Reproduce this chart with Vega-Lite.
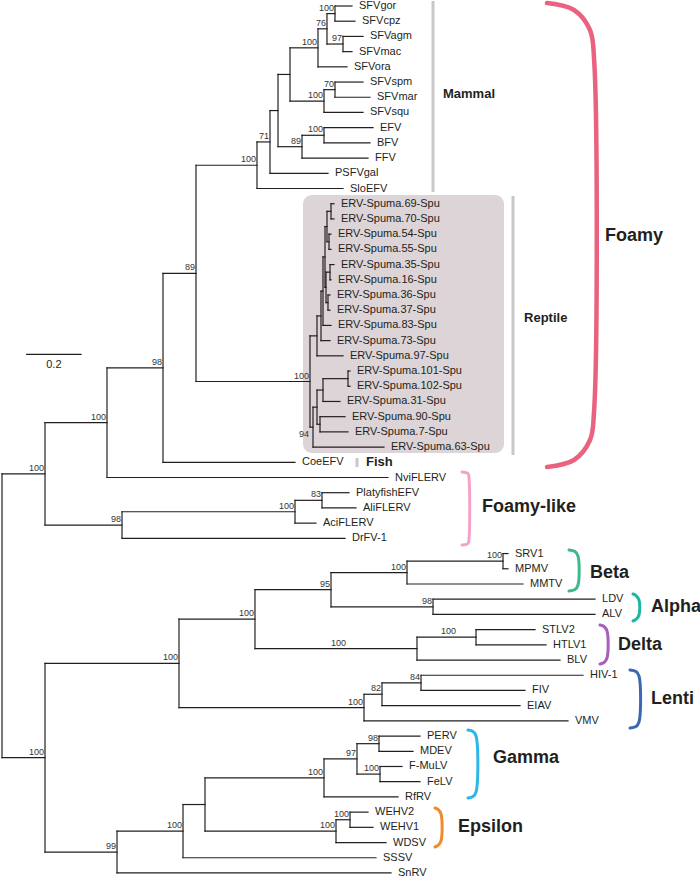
{
  "$schema": "https://vega.github.io/schema/vega-lite/v6.json",
  "width": 700,
  "height": 878,
  "autosize": {"type": "none"},
  "padding": 0,
  "config": {"view": {"stroke": null}, "font": "Liberation Sans"},
  "datasets": {
    "seg": [
      {"x":0,"x2":0,"y":30.76,"y2":49.42},
      {"x":0,"x2":0.1584,"y":30.76,"y2":30.76},
      {"x":0.1584,"x2":0.1584,"y":27.395,"y2":34.125},
      {"x":0.1584,"x2":0.3867,"y":27.395,"y2":27.395},
      {"x":0.3867,"x2":0.3867,"y":23.789,"y2":31},
      {"x":0.3867,"x2":1.4217,"y":31,"y2":31},
      {"x":0.3867,"x2":0.593,"y":23.789,"y2":23.789},
      {"x":0.593,"x2":0.593,"y":17.578,"y2":30},
      {"x":0.593,"x2":1.0792,"y":30,"y2":30},
      {"x":0.593,"x2":0.7145,"y":17.578,"y2":17.578},
      {"x":0.7145,"x2":0.7145,"y":10.469,"y2":24.688},
      {"x":0.7145,"x2":0.9392,"y":10.469,"y2":10.469},
      {"x":0.9392,"x2":0.9392,"y":8.938,"y2":12},
      {"x":0.9392,"x2":1.256,"y":12,"y2":12},
      {"x":0.9392,"x2":0.9871,"y":8.938,"y2":8.938},
      {"x":0.9871,"x2":0.9871,"y":6.875,"y2":11},
      {"x":0.9871,"x2":1.2007,"y":11,"y2":11},
      {"x":0.9871,"x2":1.0166,"y":6.875,"y2":6.875},
      {"x":1.0166,"x2":1.0166,"y":4.5,"y2":9.25},
      {"x":1.0166,"x2":1.0608,"y":4.5,"y2":4.5},
      {"x":1.0608,"x2":1.0608,"y":2.75,"y2":6.25},
      {"x":1.0608,"x2":1.1639,"y":2.75,"y2":2.75},
      {"x":1.1639,"x2":1.1639,"y":1.5,"y2":4},
      {"x":1.1639,"x2":1.2707,"y":4,"y2":4},
      {"x":1.1639,"x2":1.197,"y":1.5,"y2":1.5},
      {"x":1.197,"x2":1.197,"y":0.5,"y2":2.5},
      {"x":1.197,"x2":1.2265,"y":0.5,"y2":0.5},
      {"x":1.2265,"x2":1.2265,"y":0,"y2":1},
      {"x":1.2265,"x2":1.2891,"y":0,"y2":0},
      {"x":1.2265,"x2":1.3002,"y":1,"y2":1},
      {"x":1.197,"x2":1.256,"y":2.5,"y2":2.5},
      {"x":1.256,"x2":1.256,"y":2,"y2":3},
      {"x":1.256,"x2":1.3297,"y":2,"y2":2},
      {"x":1.256,"x2":1.2891,"y":3,"y2":3},
      {"x":1.0608,"x2":1.186,"y":6.25,"y2":6.25},
      {"x":1.186,"x2":1.186,"y":5.5,"y2":7},
      {"x":1.186,"x2":1.2265,"y":5.5,"y2":5.5},
      {"x":1.2265,"x2":1.2265,"y":5,"y2":6},
      {"x":1.2265,"x2":1.3297,"y":5,"y2":5},
      {"x":1.2265,"x2":1.3554,"y":6,"y2":6},
      {"x":1.186,"x2":1.3297,"y":7,"y2":7},
      {"x":1.0166,"x2":1.105,"y":9.25,"y2":9.25},
      {"x":1.105,"x2":1.105,"y":8.5,"y2":10},
      {"x":1.105,"x2":1.186,"y":8.5,"y2":8.5},
      {"x":1.186,"x2":1.186,"y":8,"y2":9},
      {"x":1.186,"x2":1.3665,"y":8,"y2":8},
      {"x":1.186,"x2":1.3554,"y":9,"y2":9},
      {"x":1.105,"x2":1.3481,"y":10,"y2":10},
      {"x":0.7145,"x2":1.1344,"y":24.688,"y2":24.688},
      {"x":1.1344,"x2":1.1344,"y":21.688,"y2":27.688},
      {"x":1.1344,"x2":1.1602,"y":21.688,"y2":21.688},
      {"x":1.1602,"x2":1.1602,"y":20.375,"y2":23},
      {"x":1.1602,"x2":1.256,"y":23,"y2":23},
      {"x":1.1602,"x2":1.1749,"y":20.375,"y2":20.375},
      {"x":1.1749,"x2":1.1749,"y":18.75,"y2":22},
      {"x":1.1749,"x2":1.2081,"y":22,"y2":22},
      {"x":1.1749,"x2":1.1823,"y":18.75,"y2":18.75},
      {"x":1.1823,"x2":1.1823,"y":16.5,"y2":21},
      {"x":1.1823,"x2":1.2118,"y":21,"y2":21},
      {"x":1.1823,"x2":1.1897,"y":16.5,"y2":16.5},
      {"x":1.1897,"x2":1.1897,"y":14.5,"y2":18.5},
      {"x":1.1897,"x2":1.197,"y":14.5,"y2":14.5},
      {"x":1.197,"x2":1.197,"y":13.5,"y2":15.5},
      {"x":1.197,"x2":1.2118,"y":13.5,"y2":13.5},
      {"x":1.2118,"x2":1.2118,"y":13,"y2":14},
      {"x":1.2118,"x2":1.2228,"y":13,"y2":13},
      {"x":1.2118,"x2":1.2228,"y":14,"y2":14},
      {"x":1.197,"x2":1.2044,"y":15.5,"y2":15.5},
      {"x":1.2044,"x2":1.2044,"y":15,"y2":16},
      {"x":1.2044,"x2":1.2118,"y":15,"y2":15},
      {"x":1.2044,"x2":1.2118,"y":16,"y2":16},
      {"x":1.1897,"x2":1.1934,"y":18.5,"y2":18.5},
      {"x":1.1934,"x2":1.1934,"y":17.5,"y2":19.5},
      {"x":1.1934,"x2":1.2081,"y":17.5,"y2":17.5},
      {"x":1.2081,"x2":1.2081,"y":17,"y2":18},
      {"x":1.2081,"x2":1.2228,"y":17,"y2":17},
      {"x":1.2081,"x2":1.2118,"y":18,"y2":18},
      {"x":1.1934,"x2":1.2007,"y":19.5,"y2":19.5},
      {"x":1.2007,"x2":1.2007,"y":19,"y2":20},
      {"x":1.2007,"x2":1.2081,"y":19,"y2":19},
      {"x":1.2007,"x2":1.2081,"y":20,"y2":20},
      {"x":1.1344,"x2":1.1455,"y":27.688,"y2":27.688},
      {"x":1.1455,"x2":1.1455,"y":26.375,"y2":29},
      {"x":1.1455,"x2":1.407,"y":29,"y2":29},
      {"x":1.1455,"x2":1.1602,"y":26.375,"y2":26.375},
      {"x":1.1602,"x2":1.1602,"y":25.25,"y2":27.5},
      {"x":1.1602,"x2":1.1823,"y":25.25,"y2":25.25},
      {"x":1.1823,"x2":1.1823,"y":24.5,"y2":26},
      {"x":1.1823,"x2":1.2449,"y":26,"y2":26},
      {"x":1.1823,"x2":1.2744,"y":24.5,"y2":24.5},
      {"x":1.2744,"x2":1.2744,"y":24,"y2":25},
      {"x":1.2744,"x2":1.2818,"y":24,"y2":24},
      {"x":1.2744,"x2":1.2818,"y":25,"y2":25},
      {"x":1.1602,"x2":1.1713,"y":27.5,"y2":27.5},
      {"x":1.1713,"x2":1.1713,"y":27,"y2":28},
      {"x":1.1713,"x2":1.2634,"y":27,"y2":27},
      {"x":1.1713,"x2":1.2744,"y":28,"y2":28},
      {"x":0.1584,"x2":0.442,"y":34.125,"y2":34.125},
      {"x":0.442,"x2":0.442,"y":33.25,"y2":35},
      {"x":0.442,"x2":1.2634,"y":35,"y2":35},
      {"x":0.442,"x2":1.0792,"y":33.25,"y2":33.25},
      {"x":1.0792,"x2":1.0792,"y":32.5,"y2":34},
      {"x":1.0792,"x2":1.1565,"y":34,"y2":34},
      {"x":1.0792,"x2":1.1786,"y":32.5,"y2":32.5},
      {"x":1.1786,"x2":1.1786,"y":32,"y2":33},
      {"x":1.1786,"x2":1.2781,"y":32,"y2":32},
      {"x":1.1786,"x2":1.3039,"y":33,"y2":33},
      {"x":0,"x2":0.1584,"y":49.42,"y2":49.42},
      {"x":0.1584,"x2":0.1584,"y":43.219,"y2":55.625},
      {"x":0.1584,"x2":0.6519,"y":43.219,"y2":43.219},
      {"x":0.6519,"x2":0.6519,"y":40.313,"y2":46.125},
      {"x":0.6519,"x2":0.9318,"y":40.313,"y2":40.313},
      {"x":0.9318,"x2":0.9318,"y":38.375,"y2":42.25},
      {"x":0.9318,"x2":1.2118,"y":38.375,"y2":38.375},
      {"x":1.2118,"x2":1.2118,"y":37.25,"y2":39.5},
      {"x":1.2118,"x2":1.4917,"y":37.25,"y2":37.25},
      {"x":1.4917,"x2":1.4917,"y":36.5,"y2":38},
      {"x":1.4917,"x2":1.8453,"y":36.5,"y2":36.5},
      {"x":1.8453,"x2":1.8453,"y":36,"y2":37},
      {"x":1.8453,"x2":1.8637,"y":36,"y2":36},
      {"x":1.8453,"x2":1.8637,"y":37,"y2":37},
      {"x":1.4917,"x2":1.919,"y":38,"y2":38},
      {"x":1.2118,"x2":1.5875,"y":39.5,"y2":39.5},
      {"x":1.5875,"x2":1.5875,"y":39,"y2":40},
      {"x":1.5875,"x2":2.1842,"y":39,"y2":39},
      {"x":1.5875,"x2":2.1842,"y":40,"y2":40},
      {"x":0.9318,"x2":1.5285,"y":42.25,"y2":42.25},
      {"x":1.5285,"x2":1.5285,"y":41.5,"y2":43},
      {"x":1.5285,"x2":1.7459,"y":41.5,"y2":41.5},
      {"x":1.7459,"x2":1.7459,"y":41,"y2":42},
      {"x":1.7459,"x2":1.9632,"y":41,"y2":41},
      {"x":1.7459,"x2":2.0037,"y":42,"y2":42},
      {"x":1.5285,"x2":2.0552,"y":43,"y2":43},
      {"x":0.6519,"x2":1.3333,"y":46.125,"y2":46.125},
      {"x":1.3333,"x2":1.3333,"y":45.25,"y2":47},
      {"x":1.3333,"x2":1.3996,"y":45.25,"y2":45.25},
      {"x":1.3996,"x2":1.3996,"y":44.5,"y2":46},
      {"x":1.3996,"x2":1.5433,"y":44.5,"y2":44.5},
      {"x":1.5433,"x2":1.5433,"y":44,"y2":45},
      {"x":1.5433,"x2":2.14,"y":44,"y2":44},
      {"x":1.5433,"x2":1.9263,"y":45,"y2":45},
      {"x":1.3996,"x2":1.9079,"y":46,"y2":46},
      {"x":1.3333,"x2":2.0847,"y":47,"y2":47},
      {"x":0.1584,"x2":0.4236,"y":55.625,"y2":55.625},
      {"x":0.4236,"x2":0.4236,"y":54.25,"y2":57},
      {"x":0.4236,"x2":1.4328,"y":57,"y2":57},
      {"x":0.4236,"x2":0.6667,"y":54.25,"y2":54.25},
      {"x":0.6667,"x2":0.6667,"y":52.5,"y2":56},
      {"x":0.6667,"x2":1.3775,"y":56,"y2":56},
      {"x":0.6667,"x2":0.7477,"y":52.5,"y2":52.5},
      {"x":0.7477,"x2":0.7477,"y":50.75,"y2":54.25},
      {"x":0.7477,"x2":1.186,"y":50.75,"y2":50.75},
      {"x":1.186,"x2":1.186,"y":49.5,"y2":52},
      {"x":1.186,"x2":1.4586,"y":52,"y2":52},
      {"x":1.186,"x2":1.3075,"y":49.5,"y2":49.5},
      {"x":1.3075,"x2":1.3075,"y":48.5,"y2":50.5},
      {"x":1.3075,"x2":1.3886,"y":48.5,"y2":48.5},
      {"x":1.3886,"x2":1.3886,"y":48,"y2":49},
      {"x":1.3886,"x2":1.5396,"y":48,"y2":48},
      {"x":1.3886,"x2":1.5138,"y":49,"y2":49},
      {"x":1.3075,"x2":1.3923,"y":50.5,"y2":50.5},
      {"x":1.3923,"x2":1.3923,"y":50,"y2":51},
      {"x":1.3923,"x2":1.4733,"y":50,"y2":50},
      {"x":1.3923,"x2":1.5396,"y":51,"y2":51},
      {"x":0.7477,"x2":1.2302,"y":54.25,"y2":54.25},
      {"x":1.2302,"x2":1.2302,"y":53.5,"y2":55},
      {"x":1.2302,"x2":1.2818,"y":53.5,"y2":53.5},
      {"x":1.2818,"x2":1.2818,"y":53,"y2":54},
      {"x":1.2818,"x2":1.3481,"y":53,"y2":53},
      {"x":1.2818,"x2":1.3665,"y":54,"y2":54},
      {"x":1.2302,"x2":1.4144,"y":55,"y2":55},
      {"x":0.091,"x2":0.291,"y":22.9,"y2":22.9}
    ],
    "leaf": [
      {"t":"SFVgor","x":1.2891,"y":0},{"t":"SFVcpz","x":1.3002,"y":1},{"t":"SFVagm","x":1.3297,"y":2},
      {"t":"SFVmac","x":1.2891,"y":3},{"t":"SFVora","x":1.2707,"y":4},{"t":"SFVspm","x":1.3297,"y":5},
      {"t":"SFVmar","x":1.3554,"y":6},{"t":"SFVsqu","x":1.3297,"y":7},{"t":"EFV","x":1.3665,"y":8},
      {"t":"BFV","x":1.3554,"y":9},{"t":"FFV","x":1.3481,"y":10},{"t":"PSFVgal","x":1.2007,"y":11},
      {"t":"SloEFV","x":1.256,"y":12},
      {"t":"ERV-Spuma.69-Spu","x":1.2228,"y":13},{"t":"ERV-Spuma.70-Spu","x":1.2228,"y":14},
      {"t":"ERV-Spuma.54-Spu","x":1.2118,"y":15},{"t":"ERV-Spuma.55-Spu","x":1.2118,"y":16},
      {"t":"ERV-Spuma.35-Spu","x":1.2228,"y":17},{"t":"ERV-Spuma.16-Spu","x":1.2118,"y":18},
      {"t":"ERV-Spuma.36-Spu","x":1.2081,"y":19},{"t":"ERV-Spuma.37-Spu","x":1.2081,"y":20},
      {"t":"ERV-Spuma.83-Spu","x":1.2118,"y":21},{"t":"ERV-Spuma.73-Spu","x":1.2081,"y":22},
      {"t":"ERV-Spuma.97-Spu","x":1.256,"y":23},{"t":"ERV-Spuma.101-Spu","x":1.2818,"y":24},
      {"t":"ERV-Spuma.102-Spu","x":1.2818,"y":25},{"t":"ERV-Spuma.31-Spu","x":1.2449,"y":26},
      {"t":"ERV-Spuma.90-Spu","x":1.2634,"y":27},{"t":"ERV-Spuma.7-Spu","x":1.2744,"y":28},
      {"t":"ERV-Spuma.63-Spu","x":1.407,"y":29},
      {"t":"CoeEFV","x":1.0792,"y":30},{"t":"NviFLERV","x":1.4217,"y":31},{"t":"PlatyfishEFV","x":1.2781,"y":32},
      {"t":"AliFLERV","x":1.3039,"y":33},{"t":"AciFLERV","x":1.1565,"y":34},{"t":"DrFV-1","x":1.2634,"y":35},
      {"t":"SRV1","x":1.8637,"y":36},{"t":"MPMV","x":1.8637,"y":37},{"t":"MMTV","x":1.919,"y":38},
      {"t":"LDV","x":2.1842,"y":39},{"t":"ALV","x":2.1842,"y":40},{"t":"STLV2","x":1.9632,"y":41},
      {"t":"HTLV1","x":2.0037,"y":42},{"t":"BLV","x":2.0552,"y":43},{"t":"HIV-1","x":2.14,"y":44},
      {"t":"FIV","x":1.9263,"y":45},{"t":"EIAV","x":1.9079,"y":46},{"t":"VMV","x":2.0847,"y":47},
      {"t":"PERV","x":1.5396,"y":48},{"t":"MDEV","x":1.5138,"y":49},{"t":"F-MuLV","x":1.4733,"y":50},
      {"t":"FeLV","x":1.5396,"y":51},{"t":"RfRV","x":1.4586,"y":52},{"t":"WEHV2","x":1.3481,"y":53},
      {"t":"WEHV1","x":1.3665,"y":54},{"t":"WDSV","x":1.4144,"y":55},{"t":"SSSV","x":1.3775,"y":56},
      {"t":"SnRV","x":1.4328,"y":57}
    ],
    "boot": [
      {"t":"100","x":1.2265,"y":0.5,"pos":"above"},{"t":"76","x":1.197,"y":1.5,"pos":"above"},
      {"t":"97","x":1.256,"y":2.5,"pos":"above"},{"t":"100","x":1.1639,"y":2.75,"pos":"above"},
      {"t":"70","x":1.2265,"y":5.5,"pos":"above"},{"t":"100","x":1.186,"y":6.25,"pos":"above"},
      {"t":"100","x":1.186,"y":8.5,"pos":"above"},{"t":"89","x":1.105,"y":9.25,"pos":"above"},
      {"t":"71","x":0.9871,"y":8.938,"pos":"above"},{"t":"100","x":0.9392,"y":10.469,"pos":"above"},
      {"t":"100","x":1.1344,"y":24.688,"pos":"above"},{"t":"94","x":1.1344,"y":27.688,"pos":"below"},
      {"t":"89","x":0.7145,"y":17.578,"pos":"above"},{"t":"98","x":0.593,"y":23.789,"pos":"above"},
      {"t":"100","x":0.3867,"y":27.395,"pos":"above"},{"t":"100","x":0.1584,"y":30.76,"pos":"above"},
      {"t":"83","x":1.1786,"y":32.5,"pos":"above"},{"t":"100","x":1.0792,"y":33.25,"pos":"above"},
      {"t":"98","x":0.442,"y":34.125,"pos":"above"},{"t":"100","x":1.8453,"y":36.5,"pos":"above"},
      {"t":"100","x":1.4917,"y":37.25,"pos":"above"},{"t":"98","x":1.5875,"y":39.5,"pos":"above"},
      {"t":"95","x":1.2118,"y":38.375,"pos":"above"},{"t":"100","x":1.6759,"y":41.5,"pos":"above"},
      {"t":"100","x":1.2707,"y":42.25,"pos":"above"},{"t":"100","x":0.9318,"y":40.313,"pos":"above"},
      {"t":"84","x":1.5433,"y":44.5,"pos":"above"},{"t":"82","x":1.3996,"y":45.25,"pos":"above"},
      {"t":"100","x":1.3333,"y":46.125,"pos":"above"},{"t":"100","x":0.6519,"y":43.219,"pos":"above"},
      {"t":"98","x":1.3886,"y":48.5,"pos":"above"},{"t":"100","x":1.3923,"y":50.5,"pos":"above"},
      {"t":"97","x":1.3075,"y":49.5,"pos":"above"},{"t":"100","x":1.186,"y":50.75,"pos":"above"},
      {"t":"100","x":1.2818,"y":53.5,"pos":"above"},{"t":"100","x":1.2302,"y":54.25,"pos":"above"},
      {"t":"100","x":0.6667,"y":54.25,"pos":"above"},{"t":"99","x":0.4236,"y":55.625,"pos":"above"},
      {"t":"100","x":0.1584,"y":49.42,"pos":"above"}
    ],
    "brk": [
      {"g":"Foamy","i":0,"x":2.0074,"y":-0.197},{"g":"Foamy","i":1,"x":2.1068,"y":0.263},
      {"g":"Foamy","i":2,"x":2.1657,"y":1.578},{"g":"Foamy","i":3,"x":2.1805,"y":3.419},
      {"g":"Foamy","i":4,"x":2.1805,"y":26.693},{"g":"Foamy","i":5,"x":2.1657,"y":28.534},
      {"g":"Foamy","i":6,"x":2.1068,"y":29.849},{"g":"Foamy","i":7,"x":2.0074,"y":30.309},
      {"g":"Foamy-like","i":0,"x":1.6943,"y":30.638},{"g":"Foamy-like","i":1,"x":1.7164,"y":30.737},
      {"g":"Foamy-like","i":2,"x":1.7201,"y":31.032},{"g":"Foamy-like","i":3,"x":1.7201,"y":35.043},
      {"g":"Foamy-like","i":4,"x":1.7164,"y":35.339},{"g":"Foamy-like","i":5,"x":1.6943,"y":35.437},
      {"g":"Beta","i":0,"x":2.0884,"y":35.766},{"g":"Beta","i":1,"x":2.1105,"y":35.865},
      {"g":"Beta","i":2,"x":2.1215,"y":36.16},{"g":"Beta","i":3,"x":2.1215,"y":38.067},
      {"g":"Beta","i":4,"x":2.1105,"y":38.363},{"g":"Beta","i":5,"x":2.0884,"y":38.462},
      {"g":"Alpha","i":0,"x":2.3241,"y":38.659},{"g":"Alpha","i":1,"x":2.3352,"y":38.758},
      {"g":"Alpha","i":2,"x":2.3462,"y":39.053},{"g":"Alpha","i":3,"x":2.3462,"y":40.039},
      {"g":"Alpha","i":4,"x":2.3352,"y":40.335},{"g":"Alpha","i":5,"x":2.3241,"y":40.434},
      {"g":"Delta","i":0,"x":2.2026,"y":40.697},{"g":"Delta","i":1,"x":2.2173,"y":40.796},
      {"g":"Delta","i":2,"x":2.2284,"y":41.091},{"g":"Delta","i":3,"x":2.2284,"y":42.867},
      {"g":"Delta","i":4,"x":2.2173,"y":43.162},{"g":"Delta","i":5,"x":2.2026,"y":43.261},
      {"g":"Lenti","i":0,"x":2.3131,"y":43.655},{"g":"Lenti","i":1,"x":2.3352,"y":43.754},
      {"g":"Lenti","i":2,"x":2.3462,"y":44.05},{"g":"Lenti","i":3,"x":2.3462,"y":47.074},
      {"g":"Lenti","i":4,"x":2.3352,"y":47.37},{"g":"Lenti","i":5,"x":2.3131,"y":47.469},
      {"g":"Gamma","i":0,"x":1.7164,"y":47.6},{"g":"Gamma","i":1,"x":1.7348,"y":47.699},
      {"g":"Gamma","i":2,"x":1.7459,"y":47.995},{"g":"Gamma","i":3,"x":1.7459,"y":51.677},
      {"g":"Gamma","i":4,"x":1.7348,"y":51.972},{"g":"Gamma","i":5,"x":1.7164,"y":52.071},
      {"g":"Epsilon","i":0,"x":1.5948,"y":52.728},{"g":"Epsilon","i":1,"x":1.6059,"y":52.827},
      {"g":"Epsilon","i":2,"x":1.6169,"y":53.123},{"g":"Epsilon","i":3,"x":1.6169,"y":54.898},
      {"g":"Epsilon","i":4,"x":1.6059,"y":55.194},{"g":"Epsilon","i":5,"x":1.5948,"y":55.293}
    ],
    "clade": [
      {"t":"Foamy","x":2.221,"y":15.122},{"t":"Foamy-like","x":1.768,"y":32.939},
      {"t":"Beta","x":2.1657,"y":37.278},{"t":"Alpha","x":2.3904,"y":39.513},
      {"t":"Delta","x":2.2689,"y":42.012},{"t":"Lenti","x":2.3904,"y":45.562},
      {"t":"Gamma","x":1.8085,"y":49.441},{"t":"Epsilon","x":1.6796,"y":53.978}
    ],
    "host": [
      {"t":"Mammal","x":1.6243,"y":5.79},{"t":"Reptile","x":1.9227,"y":20.51},{"t":"Fish","x":1.3407,"y":29.98}
    ],
    "gbar": [
      {"x":1.5875,"y":-0.33,"y2":12.23},{"x":1.8821,"y":12.49,"y2":29.52},{"x":1.3075,"y":29.72,"y2":30.31}
    ],
    "box": [{"x":1.1087,"x2":1.849,"y":12.43,"y2":29.39}],
    "scalelab": [{"t":"0.2","x":0.191,"y":23.6}]
  },
  "encoding": {
    "x": {"field": "x", "type": "quantitative", "scale": {"domain": [-0.00737, 2.5709], "nice": false, "zero": false}, "axis": null},
    "y": {"field": "y", "type": "quantitative", "scale": {"domain": [-0.3945, 57.331], "nice": false, "zero": false, "reverse": true}, "axis": null}
  },
  "layer": [
    {"data": {"name": "box"}, "mark": {"type": "rect", "fill": "#dcd4d6", "cornerRadius": 9},
     "encoding": {"x2": {"field": "x2"}, "y2": {"field": "y2"}}},
    {"data": {"name": "gbar"}, "mark": {"type": "rule", "stroke": "#c8c8c8", "strokeWidth": 3},
     "encoding": {"y2": {"field": "y2"}}},
    {"data": {"name": "seg"}, "mark": {"type": "rule", "stroke": "#231f20", "strokeWidth": 1.2, "strokeCap": "square"},
     "encoding": {"x2": {"field": "x2"}, "y2": {"field": "y2"}}},
    {"data": {"name": "leaf"}, "mark": {"type": "text", "align": "left", "baseline": "middle", "dx": 7, "fontSize": 11, "fill": "#231f20"},
     "encoding": {"text": {"field": "t"}}},
    {"data": {"name": "boot"}, "transform": [{"filter": "datum.pos === 'above'"}],
     "mark": {"type": "text", "align": "right", "baseline": "bottom", "dx": -1, "dy": -1, "fontSize": 9, "fill": "#333333"},
     "encoding": {"text": {"field": "t"}}},
    {"data": {"name": "boot"}, "transform": [{"filter": "datum.pos === 'below'"}],
     "mark": {"type": "text", "align": "right", "baseline": "top", "dx": -1, "dy": 3, "fontSize": 9, "fill": "#333333"},
     "encoding": {"text": {"field": "t"}}},
    {"data": {"name": "scalelab"}, "mark": {"type": "text", "align": "center", "baseline": "middle", "fontSize": 11, "fill": "#231f20"},
     "encoding": {"text": {"field": "t"}}},
    {"data": {"name": "host"}, "mark": {"type": "text", "align": "left", "baseline": "middle", "fontSize": 13, "fontWeight": "bold", "fill": "#231f20"},
     "encoding": {"text": {"field": "t"}}},
    {"data": {"name": "clade"}, "mark": {"type": "text", "align": "left", "baseline": "middle", "fontSize": 18, "fontWeight": "bold", "fill": "#231f20"},
     "encoding": {"text": {"field": "t"}}},
    {"data": {"name": "brk"}, "transform": [{"filter": "datum.g === 'Foamy'"}],
     "mark": {"type": "line", "interpolate": "catmull-rom", "strokeWidth": 4.5, "strokeCap": "round", "color": "#e9627f"},
     "encoding": {"order": {"field": "i", "type": "quantitative"}}},
    {"data": {"name": "brk"}, "transform": [{"filter": "datum.g !== 'Foamy'"}],
     "mark": {"type": "line", "interpolate": "catmull-rom", "strokeWidth": 3, "strokeCap": "round"},
     "encoding": {"order": {"field": "i", "type": "quantitative"},
       "color": {"field": "g", "type": "nominal", "legend": null,
         "scale": {"domain": ["Foamy-like", "Beta", "Alpha", "Delta", "Lenti", "Gamma", "Epsilon"],
                   "range": ["#f4a3c8", "#3dba8c", "#1db5a3", "#a65fba", "#3d68b0", "#2cb7e8", "#f28a2c"]}}}}
  ]
}
